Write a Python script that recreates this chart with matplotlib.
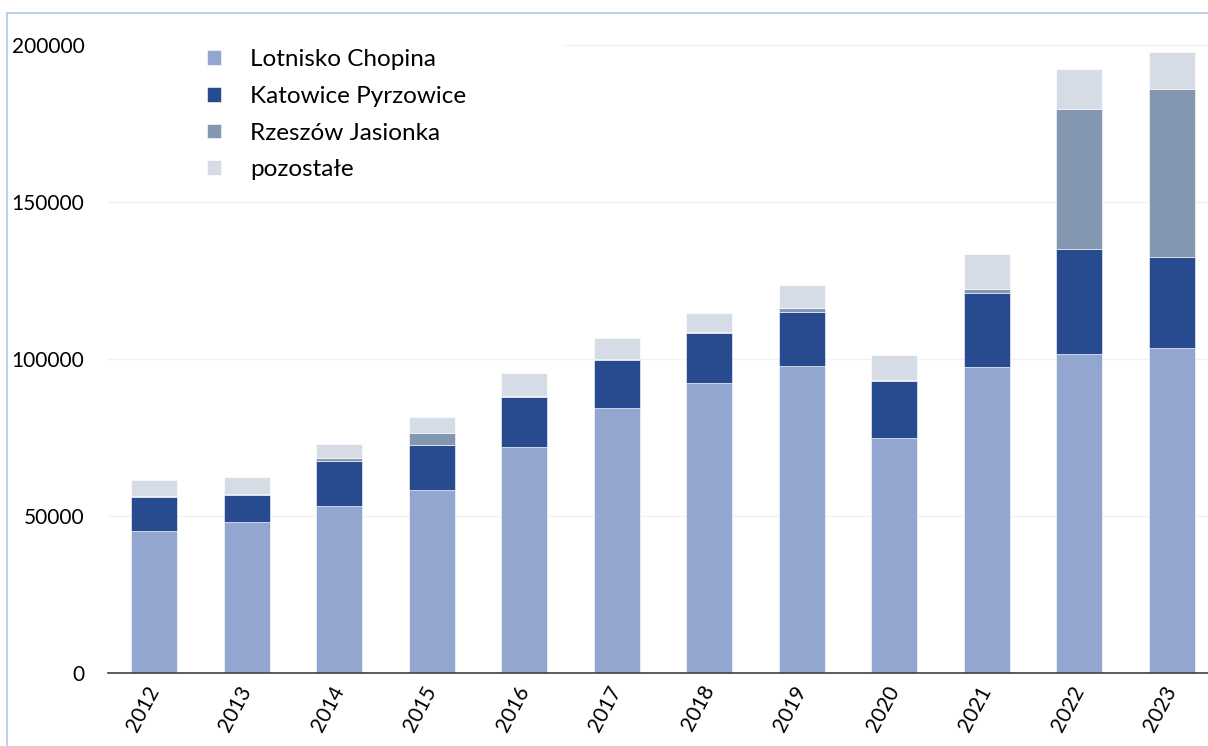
import matplotlib
matplotlib.use("Agg")
import matplotlib.pyplot as plt
import numpy as np
from matplotlib.lines import Line2D

years = ["2012", "2013", "2014", "2015", "2016", "2017", "2018", "2019", "2020", "2021", "2022", "2023"]
series_names = ["Lotnisko Chopina", "Katowice Pyrzowice", "Rzeszów Jasionka", "pozostałe"]
chopin = [45200, 48100, 53200, 58300, 72000, 84400, 92400, 97800, 74800, 97500, 101600, 103500]
katowice = [10900, 8600, 14300, 14300, 15900, 15300, 15900, 17200, 18200, 23500, 33400, 29000]
rzeszow = [400, 300, 1000, 3800, 300, 300, 300, 1200, 300, 1300, 44600, 53500]
pozostale = [5000, 5400, 4400, 5100, 7300, 6700, 6000, 7400, 8000, 11100, 12800, 11800]
yticks = [0, 50000, 100000, 150000, 200000]

colors = ["#93A6D0", "#284A8E", "#8497B0", "#D6DCE5"]

plt.rcParams['font.family'] = ['Lato', 'DejaVu Sans']

W, H = 1208, 746
fig = plt.figure(figsize=(W / 100, H / 100), dpi=100)
ax = fig.add_axes([108 / W, 1 - 673 / H, 1 - 108 / W, (673 - 45) / H])

x = np.arange(len(years))
bottom = np.zeros(len(years))
handles = []
for name, vals, c in zip(series_names, [chopin, katowice, rzeszow, pozostale], colors):
    b = ax.bar(x, vals, width=0.5, bottom=bottom, color=c, edgecolor="white",
               linewidth=0.4, label=name, zorder=3)
    handles.append(b)
    bottom = bottom + np.array(vals)

ax.set_xlim(-0.5, -0.5 + 1100 / 92.5)
ax.set_ylim(0, 200000)
ax.set_yticks(yticks)
ax.set_yticklabels([str(v) for v in yticks], fontsize=15)
ax.tick_params(axis='y', length=0, pad=17, colors="black")
ax.set_xticks(x)
ax.set_xticklabels(years, fontsize=15, rotation=62, ha='right', va='center',
                   rotation_mode='anchor')
ax.tick_params(axis='x', length=0, pad=10)

for v in yticks[1:-1]:
    ax.axhline(v, color="#F2F2F2", linewidth=1, zorder=0)
ax.axhline(200000, xmin=(563 - 108) / 1100, xmax=1, color="#F2F2F2", linewidth=1, zorder=0, clip_on=False)

for s in ["top", "right", "left"]:
    ax.spines[s].set_visible(False)
ax.spines["bottom"].set_color("#404040")
ax.spines["bottom"].set_linewidth(1.2)
ax.spines["bottom"].set_zorder(4)

leg = ax.legend(handles=handles, labels=series_names, loc='upper left',
                bbox_to_anchor=((207 - 108) / 1100, 1.0 - 4 / 628), frameon=False,
                fontsize=17.5, handlelength=0.57, handleheight=0.57, handletextpad=1.2,
                labelspacing=0.65, borderpad=0, borderaxespad=0)

# figure border lines
fig.add_artist(Line2D([7 / W, 7 / W], [0, 1 - 13 / H], color="#B4C7E7", linewidth=1.2))
fig.add_artist(Line2D([7 / W, 1], [1 - 13 / H, 1 - 13 / H], color="#B4C7E7", linewidth=1.2))

fig.savefig("out.png", dpi=100)
